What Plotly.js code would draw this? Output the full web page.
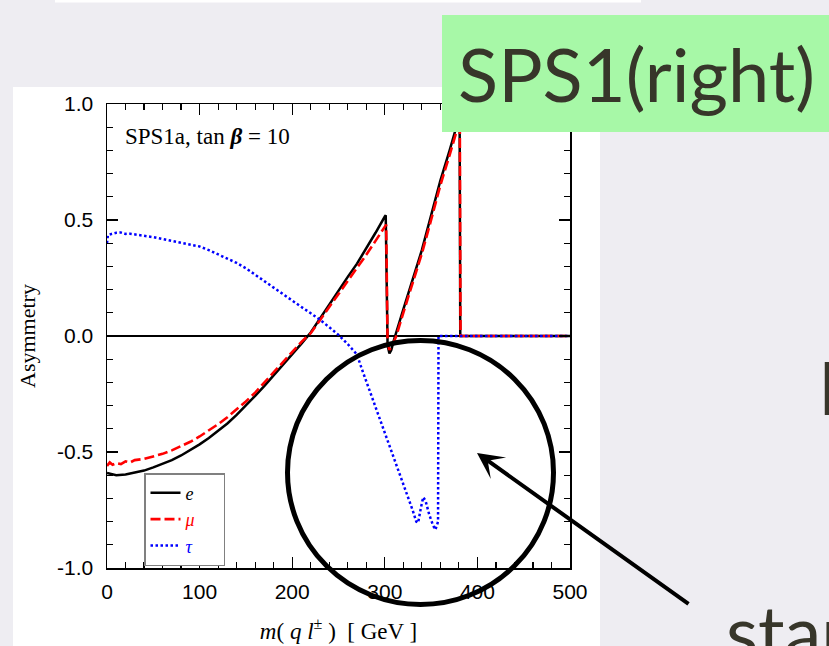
<!DOCTYPE html>
<html>
<head>
<meta charset="utf-8">
<script src="https://cdn.plot.ly/plotly-3.0.1.min.js"></script>
<style>html,body{margin:0;padding:0;background:#eeedf2;}#chart{width:829px;height:646px;}</style>
</head>
<body>
<div id="chart"></div>
<script>
// ---- data ----
const xE = [0, 5, 10, 20, 30, 40, 50, 60, 70, 80, 90, 100, 110, 120, 130, 140, 150, 160, 170, 180, 190, 200, 210, 220, 230, 240, 250, 260, 270, 280, 290, 300, 301, 303, 305, 307, 310, 320, 330, 340, 350, 360, 370, 380, 380.8, 381.5, 400, 450, 500];
const yE = [-0.590, -0.595, -0.600, -0.597, -0.590, -0.580, -0.566, -0.552, -0.535, -0.515, -0.492, -0.467, -0.440, -0.410, -0.377, -0.340, -0.300, -0.258, -0.215, -0.170, -0.125, -0.080, -0.033, 0.015, 0.075, 0.137, 0.198, 0.255, 0.312, 0.377, 0.445, 0.515, 0.520, -0.040, -0.075, -0.060, -0.015, 0.115, 0.240, 0.370, 0.520, 0.670, 0.800, 0.940, 0.950, 0.0, 0.0, 0.0, 0.0];

const xMu = [0, 3, 6, 10, 15, 20, 25, 30, 40, 50, 60, 70, 80, 90, 100, 110, 120, 130, 140, 150, 160, 170, 180, 190, 200, 210, 220, 230, 240, 250, 260, 270, 280, 290, 300, 301.5, 303, 305, 308, 312, 320, 330, 340, 350, 360, 370, 380, 381, 381.8, 400, 450, 500];
const yMu = [-0.560, -0.545, -0.555, -0.548, -0.552, -0.540, -0.545, -0.535, -0.530, -0.520, -0.508, -0.493, -0.476, -0.456, -0.433, -0.408, -0.380, -0.350, -0.317, -0.282, -0.244, -0.200, -0.155, -0.110, -0.065, -0.025, 0.012, 0.068, 0.125, 0.180, 0.235, 0.290, 0.350, 0.410, 0.472, 0.480, -0.030, -0.060, -0.040, -0.005, 0.100, 0.225, 0.355, 0.500, 0.650, 0.780, 0.920, 0.930, 0.0, 0.0, 0.0, 0.0];

const xTau = [0, 1, 5, 10, 15, 20, 25, 30, 40, 50, 60, 70, 80, 90, 100, 110, 120, 130, 140, 150, 160, 170, 180, 190, 200, 210, 220, 230, 240, 250, 260, 270, 275, 280, 290, 300, 310, 320, 330, 334, 336, 339, 341.5, 344, 348, 352, 354.5, 356, 357.5, 358, 360, 400, 450, 500];
const yTau = [0.400, 0.435, 0.440, 0.445, 0.446, 0.440, 0.441, 0.437, 0.432, 0.426, 0.418, 0.410, 0.402, 0.394, 0.386, 0.370, 0.352, 0.334, 0.315, 0.292, 0.264, 0.235, 0.205, 0.180, 0.152, 0.125, 0.098, 0.070, 0.038, 0.005, -0.035, -0.080, -0.140, -0.195, -0.310, -0.420, -0.530, -0.640, -0.750, -0.800, -0.805, -0.740, -0.695, -0.710, -0.770, -0.815, -0.835, -0.820, -0.800, 0.0, 0.0, 0.0, 0.0, 0.0];

const seriesNames = ['<i>e</i>', '<span style="color:#ff0000"><i>μ</i></span>', '<span style="color:#0000ff"><i>τ</i></span>'];
const xTickVals = [0, 100, 200, 300, 400, 500];
const xTickText = ['0', '100', '200', '300', '400', '500'];
const yTickVals = [-1, -0.5, 0, 0.5, 1];
const yTickText = ['-1.0', '-0.5', '0.0', '0.5', '1.0'];

// ---- layout helpers (pixel -> paper) ----
const L = 107, R = 570, T = 104, B = 568;
function px(x) { return (x - L) / (R - L); }
function py(y) { return (B - y) / (B - T); }
const legendPad = '\u00a0\u00a0\u00a0\u00a0\u00a0';

const traces = [
  {x: xE, y: yE, mode: 'lines', name: seriesNames[0] + legendPad, line: {color: '#000000', width: 2.5}},
  {x: xMu, y: yMu, mode: 'lines', name: seriesNames[1] + legendPad, line: {color: '#ff0000', width: 2.6, dash: '10px,4px'}},
  {x: xTau, y: yTau, mode: 'lines', name: seriesNames[2] + legendPad, line: {color: '#0000ff', width: 2.5, dash: '2.5px,2.5px'}}
];

const axisCommon = {
  showline: true, linecolor: '#000', linewidth: 1.5, mirror: 'ticks',
  ticks: 'inside', ticklen: 11, tickwidth: 1.3, tickcolor: '#000',
  showgrid: false,
  tickfont: {family: 'Liberation Sans, Arial, sans-serif', size: 21, color: '#000'}
};

const layout = {
  width: 829, height: 646,
  margin: {l: L, r: 829 - R, t: T, b: 646 - B, pad: 0},
  paper_bgcolor: '#eeedf2',
  plot_bgcolor: 'rgba(0,0,0,0)',
  font: {family: 'Liberation Sans, Arial, sans-serif', color: '#000'},
  showlegend: true,
  xaxis: Object.assign({}, axisCommon, {
    range: [0, 500], tickmode: 'array', tickvals: xTickVals, ticktext: xTickText,
    zeroline: false, ticklabelstandoff: 4,
    minor: {dtick: 20, ticks: 'inside', ticklen: 6, tickwidth: 1.2, tickcolor: '#000', showgrid: false},
    title: {text: '<i>m</i>( <i>q</i> <i>l</i><sup>±</sup> )  [ GeV ]', standoff: 21,
            font: {family: 'Liberation Serif, Times New Roman, serif', size: 23, color: '#000'}}
  }),
  yaxis: Object.assign({}, axisCommon, {
    range: [-1, 1], tickmode: 'array', tickvals: yTickVals, ticktext: yTickText,
    zeroline: true, zerolinecolor: '#000', zerolinewidth: 1.2, ticklabelstandoff: 8,
    minor: {dtick: 0.1, ticks: 'inside', ticklen: 6, tickwidth: 1.2, tickcolor: '#000', showgrid: false},
    title: {text: 'Asymmetry', standoff: 15,
            font: {family: 'Liberation Serif, Times New Roman, serif', size: 22, color: '#000'}}
  }),
  legend: {
    x: px(144), y: py(473), xanchor: 'left', yanchor: 'top',
    bgcolor: '#ffffff', bordercolor: '#808080', borderwidth: 1.5,
    font: {family: 'Liberation Serif, Times New Roman, serif', size: 18, color: '#000'},
    tracegroupgap: 0
  },
  shapes: [
    {type: 'rect', xref: 'paper', yref: 'paper', x0: px(13), x1: px(600), y0: py(660), y1: py(87),
     fillcolor: '#ffffff', line: {width: 0}, layer: 'below'},
    {type: 'rect', xref: 'paper', yref: 'paper', x0: px(55), x1: px(641), y0: py(2.5), y1: py(-10),
     fillcolor: '#ffffff', line: {width: 0}, layer: 'below'},
    {type: 'rect', xref: 'paper', yref: 'paper', x0: px(442), x1: px(840), y0: py(132), y1: py(15),
     fillcolor: '#a7f8a7', line: {width: 0}, layer: 'above'},
    {type: 'circle', xref: 'paper', yref: 'paper', x0: px(287.5), x1: px(553.5), y0: py(604.5), y1: py(340.5),
     line: {color: '#000', width: 5}, layer: 'above'}
  ],
  annotations: [
    {xref: 'paper', yref: 'paper', x: px(123), y: py(136), xanchor: 'left', yanchor: 'middle', showarrow: false,
     text: 'SPS1a, tan <b><i>β</i></b> = 10',
     font: {family: 'Liberation Serif, Times New Roman, serif', size: 23, color: '#000'}},
    {xref: 'paper', yref: 'paper', x: px(456), y: py(74), xanchor: 'left', yanchor: 'middle', showarrow: false,
     text: 'SPS1(right)', font: {family: 'Lato, Open Sans, sans-serif', size: 74, color: '#37362a'}},
    {xref: 'paper', yref: 'paper', x: px(724), y: py(630), xanchor: 'left', yanchor: 'middle', showarrow: false,
     text: 'star', font: {family: 'Lato, Open Sans, sans-serif', size: 74, color: '#37362a'}},
    {xref: 'paper', yref: 'paper', x: px(816), y: py(386), xanchor: 'left', yanchor: 'middle', showarrow: false,
     text: 'I', font: {family: 'Lato, Open Sans, sans-serif', size: 74, color: '#37362a'}},
    {xref: 'paper', yref: 'paper', x: px(477), y: py(453), ax: 213, ay: 152, axref: 'pixel', ayref: 'pixel',
     text: '', showarrow: true, arrowhead: 3, arrowsize: 1.1, arrowwidth: 4, arrowcolor: '#000'}
  ]
};

Plotly.newPlot('chart', traces, layout, {displayModeBar: false, staticPlot: true});
</script>
</body>
</html>
